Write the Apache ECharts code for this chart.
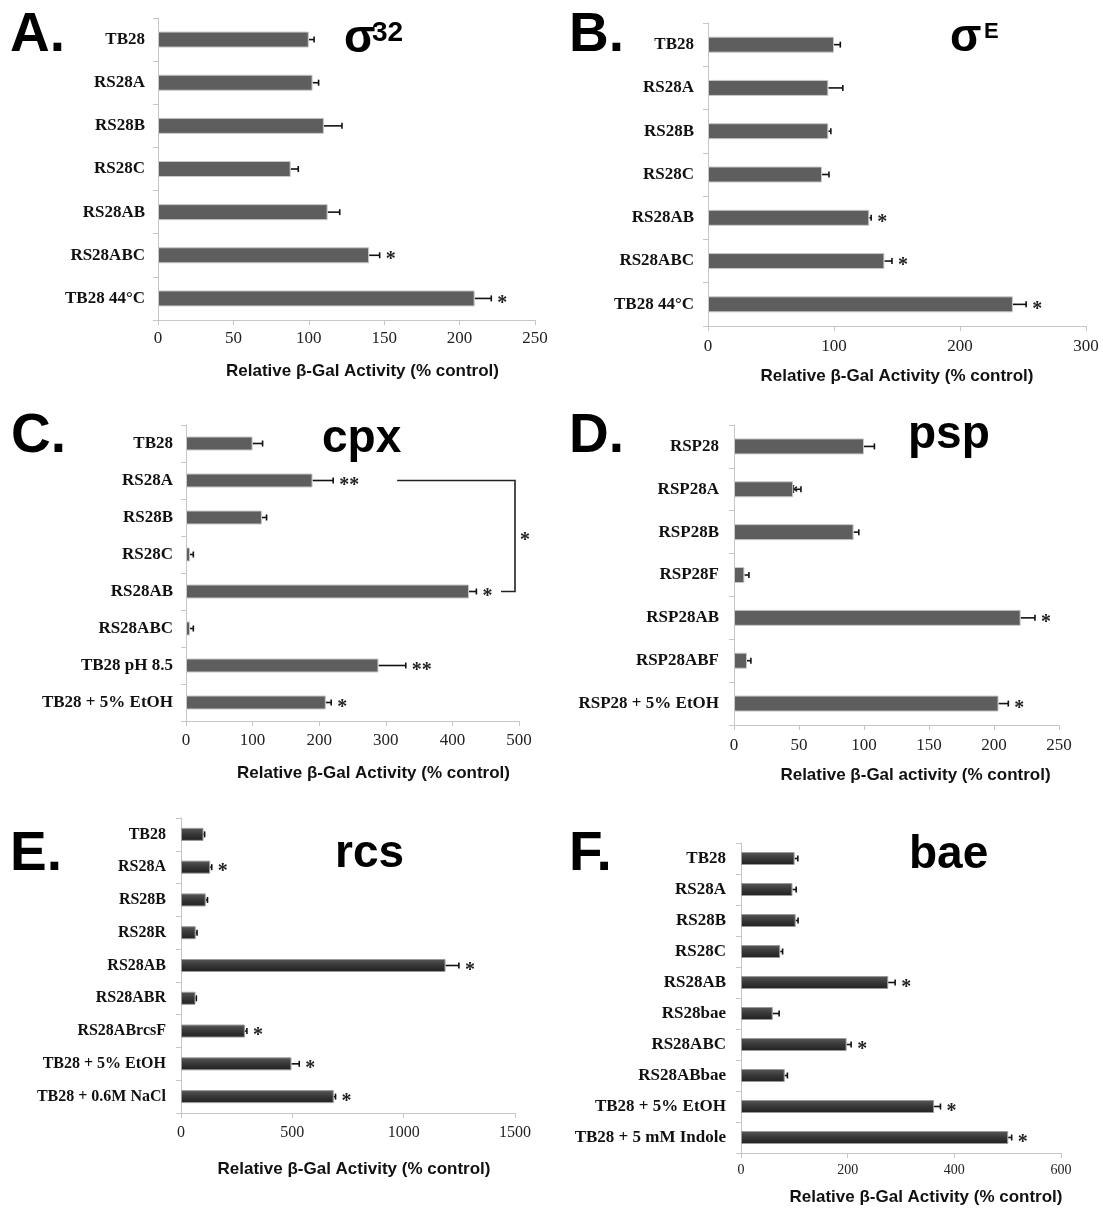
<!DOCTYPE html>
<html>
<head>
<meta charset="utf-8">
<script src="https://cdn.jsdelivr.net/npm/echarts@6/dist/echarts.min.js"></script>
<style>
html, body { margin: 0; padding: 0; background: #fff; }
#main { width: 1103px; height: 1208px; }
</style>
</head>
<body>
<div id="main"></div>
<script>
// A. sigma 32
var sig32Cats = ['TB28', 'RS28A', 'RS28B', 'RS28C', 'RS28AB', 'RS28ABC', 'TB28 44°C'];
var sig32Vals = [100, 102.5, 110, 88, 112.5, 140, 210];
var sig32Errs = [3.5, 4, 12, 5, 8, 7, 11];
var sig32Stars = ['', '', '', '', '', '*', '*'];
var sig32Ticks = [0, 50, 100, 150, 200, 250];

// B. sigma E
var sigECats = ['TB28', 'RS28A', 'RS28B', 'RS28C', 'RS28AB', 'RS28ABC', 'TB28 44°C'];
var sigEVals = [100, 95.5, 95.5, 90.5, 128, 140, 242];
var sigEErrs = [5, 11.5, 2, 5.5, 1.5, 6, 10.5];
var sigEStars = ['', '', '', '', '*', '*', '*'];
var sigETicks = [0, 100, 200, 300];

// C. cpx
var cpxCats = ['TB28', 'RS28A', 'RS28B', 'RS28C', 'RS28AB', 'RS28ABC', 'TB28 pH 8.5', 'TB28 + 5% EtOH'];
var cpxVals = [100, 190, 114, 6, 425, 6, 289, 210];
var cpxErrs = [15, 31, 7, 5, 11, 5, 41, 8];
var cpxStars = ['', '**', '', '', '*', '', '**', '*'];
var cpxTicks = [0, 100, 200, 300, 400, 500];
// bracket between RS28A and RS28AB: top start, right side, bottom start (data units)
var cpxBracketRows = ['RS28A', 'RS28AB'];
var cpxBracketX = [317, 494, 473];
var cpxBracketStar = '*';

// D. psp
var pspCats = ['RSP28', 'RSP28A', 'RSP28B', 'RSP28F', 'RSP28AB', 'RSP28ABF', 'RSP28 + 5% EtOH'];
var pspVals = [100, 45.5, 92, 8, 220.5, 10, 203.5];
var pspErrs = [8, 6, 4, 3.5, 11, 3, 7.5];
var pspStars = ['', '', '', '', '*', '', '*'];
var pspInlineStars = ['', '*', '', '', '', '', ''];
var pspTicks = [0, 50, 100, 150, 200, 250];

// E. rcs
var rcsCats = ['TB28', 'RS28A', 'RS28B', 'RS28R', 'RS28AB', 'RS28ABR', 'RS28ABrcsF', 'TB28 + 5% EtOH', 'TB28 + 0.6M NaCl'];
var rcsVals = [101, 131, 111, 66, 1188, 65, 287, 496, 686];
var rcsErrs = [5, 7, 8, 6, 60, 4, 9, 35, 8];
var rcsStars = ['', '*', '', '', '*', '', '*', '*', '*'];
var rcsTicks = [0, 500, 1000, 1500];

// F. bae
var baeCats = ['TB28', 'RS28A', 'RS28B', 'RS28C', 'RS28AB', 'RS28bae', 'RS28ABC', 'RS28ABbae', 'TB28 + 5% EtOH', 'TB28 + 5 mM Indole'];
var baeVals = [100.5, 96.5, 102.5, 73.5, 276, 59.5, 198, 82, 362, 501];
var baeErrs = [6, 7, 4.5, 4.5, 13, 12, 8.5, 5, 12, 6.5];
var baeStars = ['', '', '', '', '*', '', '*', '', '*', '*'];
var baeTicks = [0, 200, 400, 600];

var SERIF = '"Liberation Serif", "Times New Roman", serif';
var SANS = '"Liberation Sans", Arial, sans-serif';
var AXIS_GREY = '#c6c6c6';

var panels = [
  { cats: sig32Cats, vals: sig32Vals, errs: sig32Errs, stars: sig32Stars, ticks: sig32Ticks,
    grid: { left: 158, top: 18, width: 377, height: 302 }, barWidth: 16, tickSize: 17, catSize: 17,
    xMargin: 10, yMargin: 13, nameGap: 43, nameShift: 16, name: 'Relative β-Gal Activity (% control)' },
  { cats: sigECats, vals: sigEVals, errs: sigEErrs, stars: sigEStars, ticks: sigETicks,
    grid: { left: 708, top: 23, width: 378, height: 303 }, barWidth: 16, tickSize: 17, catSize: 17,
    xMargin: 12, yMargin: 14, nameGap: 42, nameShift: 0, name: 'Relative β-Gal Activity (% control)' },
  { cats: cpxCats, vals: cpxVals, errs: cpxErrs, stars: cpxStars, ticks: cpxTicks,
    grid: { left: 186, top: 425, width: 333, height: 296 }, barWidth: 14, tickSize: 17, catSize: 17,
    xMargin: 11, yMargin: 13, nameGap: 44, nameShift: 21, name: 'Relative β-Gal Activity (% control)' },
  { cats: pspCats, vals: pspVals, errs: pspErrs, stars: pspStars, inline: pspInlineStars, ticks: pspTicks,
    grid: { left: 734, top: 425, width: 325, height: 300 }, barWidth: 16, tickSize: 17, catSize: 17,
    xMargin: 12, yMargin: 15, nameGap: 42, nameShift: 19, name: 'Relative β-Gal activity (% control)' },
  { cats: rcsCats, vals: rcsVals, errs: rcsErrs, stars: rcsStars, ticks: rcsTicks, dark: true,
    grid: { left: 181, top: 818, width: 334, height: 295 }, barWidth: 13, tickSize: 16, catSize: 16,
    xMargin: 12, yMargin: 15, nameGap: 48, nameShift: 6, name: 'Relative β-Gal Activity (% control)' },
  { cats: baeCats, vals: baeVals, errs: baeErrs, stars: baeStars, ticks: baeTicks, dark: true,
    grid: { left: 741, top: 843, width: 320, height: 310 }, barWidth: 13, tickSize: 14, catSize: 17,
    xMargin: 10, yMargin: 15, nameGap: 36, nameShift: 25, name: 'Relative β-Gal Activity (% control)' }
];

function renderErr(params, api) {
  var v = api.value(0), c = api.value(1), e = api.value(2);
  var star = api.value(3), inl = api.value(4);
  var p0 = api.coord([v, c]);
  var p1 = api.coord([v + e, c]);
  var kids = [
    { type: 'line', shape: { x1: p0[0], y1: p0[1], x2: p1[0], y2: p1[1] }, style: { stroke: '#111', lineWidth: 1.6 } },
    { type: 'line', shape: { x1: p1[0], y1: p1[1] - 3, x2: p1[0], y2: p1[1] + 3 }, style: { stroke: '#111', lineWidth: 1.6 } }
  ];
  if (star) {
    kids.push({ type: 'text', style: { text: star, x: p1[0] + 6, y: p1[1] + 5, font: 'bold 20px ' + SERIF, fill: '#222', align: 'left', verticalAlign: 'middle' } });
  }
  if (inl) {
    kids.push({ type: 'text', style: { text: inl, x: p0[0], y: p0[1] + 5, font: 'bold 20px ' + SERIF, fill: '#222', align: 'center', verticalAlign: 'middle' } });
  }
  return { type: 'group', children: kids };
}

var grids = [], xAxes = [], yAxes = [], series = [];
panels.forEach(function (p, i) {
  grids.push(p.grid);
  xAxes.push({
    type: 'value', gridIndex: i, min: p.ticks[0], max: p.ticks[p.ticks.length - 1], interval: p.ticks[1] - p.ticks[0],
    axisLine: { show: true, lineStyle: { color: AXIS_GREY, width: 1 } },
    axisTick: { show: true, length: 5, lineStyle: { color: AXIS_GREY } },
    splitLine: { show: false },
    axisLabel: { color: '#222', fontFamily: SERIF, fontSize: p.tickSize, margin: p.xMargin,
      formatter: function (v) { return String(v); } },
    name: p.name, nameLocation: 'middle', nameGap: p.nameGap,
    nameTextStyle: { fontFamily: SANS, fontWeight: 'bold', fontSize: 17, color: '#111', padding: [0, 0, 0, p.nameShift * 2] }
  });
  yAxes.push({
    type: 'category', gridIndex: i, data: p.cats, inverse: true,
    axisLine: { show: true, lineStyle: { color: AXIS_GREY, width: 1 } },
    axisTick: { show: true, length: 5, lineStyle: { color: AXIS_GREY } },
    axisLabel: { color: '#111', fontFamily: SERIF, fontWeight: 'bold', fontSize: p.catSize, margin: p.yMargin, interval: 0 }
  });
  var barColor = p.dark
    ? new echarts.graphic.LinearGradient(0, 0, 0, 1, [
        { offset: 0, color: '#585858' },
        { offset: 0.45, color: '#3a3a3a' },
        { offset: 1, color: '#202020' }
      ])
    : '#5e5e5e';
  series.push({
    type: 'bar', xAxisIndex: i, yAxisIndex: i, data: p.vals, barWidth: p.barWidth,
    itemStyle: { color: barColor, borderColor: p.dark ? '#9a9a9a' : '#c8c8c8', borderWidth: 1 },
    silent: true, animation: false
  });
  series.push({
    type: 'custom', xAxisIndex: i, yAxisIndex: i, renderItem: renderErr, animation: false, silent: true,
    encode: { x: 0, y: 1 },
    data: p.vals.map(function (v, k) {
      return [v, k, p.errs[k], p.stars[k], p.inline ? p.inline[k] : ''];
    })
  });
});

// significance bracket in panel C
series.push({
  type: 'custom', xAxisIndex: 2, yAxisIndex: 2, animation: false, silent: true,
  encode: { x: 0, y: 1 },
  data: [[cpxBracketX[0], cpxCats.indexOf(cpxBracketRows[0]), cpxBracketX[1], cpxCats.indexOf(cpxBracketRows[1]), cpxBracketX[2]]],
  renderItem: function (params, api) {
    var a = api.coord([api.value(0), api.value(1)]);
    var b = api.coord([api.value(2), api.value(1)]);
    var c = api.coord([api.value(2), api.value(3)]);
    var d = api.coord([api.value(4), api.value(3)]);
    return {
      type: 'group', children: [
        { type: 'polyline', shape: { points: [a, b, c, d] }, style: { stroke: '#222', lineWidth: 1.6, fill: null } },
        { type: 'text', style: { text: cpxBracketStar, x: b[0] + 10, y: (b[1] + c[1]) / 2 + 5, font: 'bold 20px ' + SERIF, fill: '#222', align: 'center', verticalAlign: 'middle' } }
      ]
    };
  }
});

function bigText(txt, x, y, size, va) {
  return { type: 'text', x: x, y: y, style: { text: txt, font: 'bold ' + size + 'px ' + SANS, fill: '#000', verticalAlign: va || 'top' } };
}

var graphics = [
  bigText('A.', 10, 8, 55), bigText('B.', 569, 8, 55),
  bigText('C.', 11, 409, 55), bigText('D.', 569, 409, 55),
  bigText('E.', 10, 827, 55), bigText('F.', 569, 827, 55),
  bigText('σ', 344, 62, 46, 'bottom'), bigText('32', 372, 19, 28),
  bigText('σ', 950, 61, 46, 'bottom'), bigText('E', 984, 21, 22),
  bigText('cpx', 322, 462, 46, 'bottom'),
  bigText('psp', 908, 458, 46, 'bottom'),
  bigText('rcs', 335, 877, 46, 'bottom'),
  bigText('bae', 909, 878, 46, 'bottom')
];

var chart = echarts.init(document.getElementById('main'));
chart.setOption({
  backgroundColor: '#fff',
  animation: false,
  grid: grids,
  xAxis: xAxes,
  yAxis: yAxes,
  series: series,
  graphic: graphics
});
</script>
</body>
</html>
